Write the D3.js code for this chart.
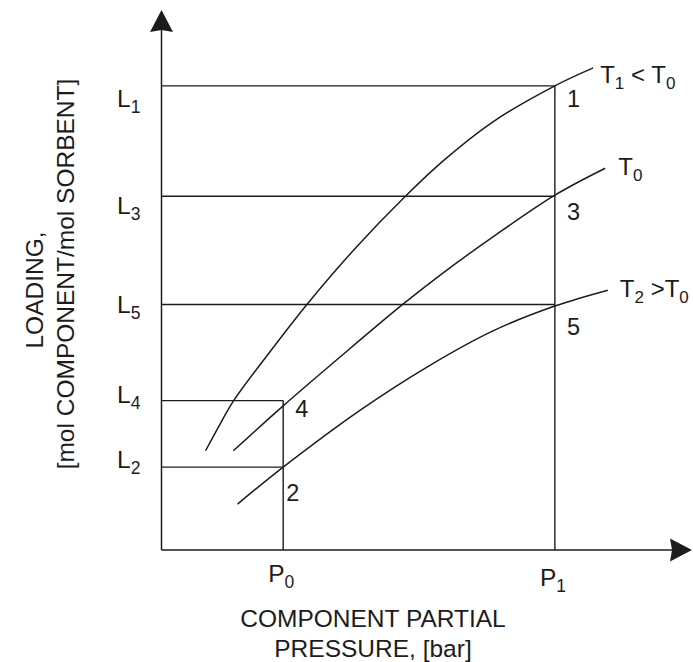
<!DOCTYPE html>
<html><head><meta charset="utf-8">
<script src="https://cdn.jsdelivr.net/npm/d3@7"></script>
<style>
body{margin:0;background:#fff}
text{font-family:"Liberation Sans",Arial,Helvetica,sans-serif;fill:#1c1c1c}
</style>
</head><body>
<svg id="c" width="693" height="662"></svg>
<script>
// ---- data (arbitrary units) ----
const levelNames  = ["L_1","L_3","L_5","L_4","L_2"];
const levelValues = [8.79, 6.70, 4.65, 2.83, 1.57];
const levelAt     = ["P_1","P_1","P_1","P_0","P_0"];   // pressure where each level line stops
const pressureNames  = ["P_0","P_1"];
const pressureValues = [2.32, 7.50];
const pointLabels = ["1","3","5","4","2"];
const curveNames  = ["T_1 < T_0","T_0","T_2 >T_0"];
const t1Pressure = [0.84,1.12,1.37,2.08,2.78,3.70,4.65,5.37,6.32,7.50,8.23];
const t1Loading  = [1.88,2.39,2.82,3.77,4.66,5.72,6.70,7.37,8.11,8.79,9.13];
const t0Pressure = [1.37,2.32,3.41,4.61,5.37,6.32,7.50,8.46];
const t0Loading  = [1.88,2.73,3.66,4.66,5.25,5.93,6.72,7.23];
const t2Pressure = [1.45,2.32,3.79,5.07,6.32,7.50,8.51];
const t2Loading  = [0.87,1.57,2.65,3.47,4.15,4.62,4.92];
const xTitle = ["COMPONENT PARTIAL","PRESSURE, [bar]"];
const yTitle = ["LOADING,","[mol COMPONENT/mol SORBENT]"];

// ---- layout ----
const svg = d3.select("#c");
const x = d3.scaleLinear().domain([0,10]).range([161.5,686]);
const y = d3.scaleLinear().domain([0,10]).range([550,22]);
const ink = "#1c1c1c";
const pMap = {}; pressureNames.forEach((n,i)=>pMap[n]=pressureValues[i]);

function rich(sel, str, subSize, subShift){
  const parts = str.split(/_(\w)/);
  let shifted = false;
  parts.forEach((p,i)=>{
    if(p==="") return;
    const t = sel.append("tspan").text(p);
    if(i%2===1){ t.attr("font-size",subSize).attr("dy",subShift); shifted=true; }
    else if(shifted){ t.attr("dy",-subShift); shifted=false; }
  });
}

// guide lines
const g = svg.append("g").attr("stroke",ink).attr("stroke-width",1.4).attr("fill","none");
levelValues.forEach((v,i)=>{
  g.append("line").attr("x1",x(0)).attr("x2",x(pMap[levelAt[i]]))
    .attr("y1",y(v)).attr("y2",y(v));
});
pressureNames.forEach((n,j)=>{
  const top = d3.max(levelValues.filter((v,i)=>levelAt[i]===n));
  g.append("line").attr("x1",x(pressureValues[j])).attr("x2",x(pressureValues[j]))
    .attr("y1",y(0)).attr("y2",y(top));
});

// axes with arrows
const ax = svg.append("g").attr("stroke",ink).attr("stroke-width",1.5);
const yTop = y.range()[1]-12, xEnd = x.range()[1]+6;
ax.append("line").attr("x1",x(0)).attr("x2",x(0)).attr("y1",y(0)).attr("y2",yTop+10);
ax.append("line").attr("x1",x(0)).attr("x2",xEnd-10).attr("y1",y(0)).attr("y2",y(0));
svg.append("path").attr("fill",ink)
  .attr("d",`M${x(0)},${yTop} L${x(0)+11.5},${yTop+22} L${x(0)},${yTop+20} L${x(0)-11.5},${yTop+22}Z`);
svg.append("path").attr("fill",ink)
  .attr("d",`M${xEnd},${y(0)} L${xEnd-22},${y(0)-11.5} L${xEnd-20},${y(0)} L${xEnd-22},${y(0)+11.5}Z`);

// isotherm curves
const line = d3.line().x(d=>x(d[0])).y(d=>y(d[1])).curve(d3.curveCatmullRom.alpha(0.5));
[[t1Pressure,t1Loading],[t0Pressure,t0Loading],[t2Pressure,t2Loading]].forEach(([px,py])=>{
  svg.append("path").attr("d",line(px.map((v,i)=>[v,py[i]])))
    .attr("fill","none").attr("stroke",ink).attr("stroke-width",1.5);
});

// level labels (L)
const levelDy = [21,18,8.5,2,1];
levelNames.forEach((n,i)=>{
  const t = svg.append("text").attr("x",117).attr("y",y(levelValues[i])+levelDy[i]).attr("font-size",24.5);
  rich(t,n,17.5,6);
});
// pressure labels (P)
const pDy = [32,36];
pressureNames.forEach((n,j)=>{
  const t = svg.append("text").attr("x",x(pressureValues[j])-15).attr("y",y(0)+pDy[j]).attr("font-size",24.5);
  rich(t,n,17.5,6);
});
// state point labels
const ptDx = [12,12,12,12,3], ptDy = [21,24,31,16,34];
pointLabels.forEach((n,i)=>{
  svg.append("text").attr("x",x(pMap[levelAt[i]])+ptDx[i]).attr("y",y(levelValues[i])+ptDy[i])
    .attr("font-size",23.5).text(n);
});
// curve labels at curve ends
const curveEnds = [[t1Pressure,t1Loading],[t0Pressure,t0Loading],[t2Pressure,t2Loading]];
const cDx = [7,13,12], cDy = [15,7,7];
curveNames.forEach((n,i)=>{
  const [px,py] = curveEnds[i];
  const t = svg.append("text").attr("x",x(px[px.length-1])+cDx[i]).attr("y",y(py[py.length-1])+cDy[i])
    .attr("font-size",24);
  rich(t,n,17,6);
});

// axis titles
svg.append("text").attr("x",373).attr("y",627).attr("text-anchor","middle").attr("font-size",24.5).text(xTitle[0]);
svg.append("text").attr("x",373).attr("y",657).attr("text-anchor","middle").attr("font-size",24.5).text(xTitle[1]);
svg.append("text").attr("transform","translate(43,290) rotate(-90)").attr("text-anchor","middle").attr("font-size",24.5).text(yTitle[0]);
svg.append("text").attr("transform","translate(74,274) rotate(-90)").attr("text-anchor","middle").attr("font-size",24.5).text(yTitle[1]);
</script>
</body></html>
